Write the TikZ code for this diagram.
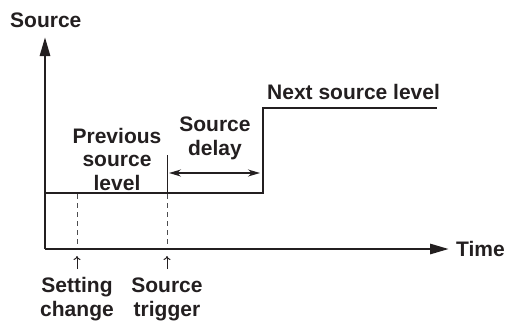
\documentclass[tikz,border=0pt]{standalone}
\usepackage{fontspec}
\setmainfont{Liberation Sans}
\usepackage{tikz}
\usetikzlibrary{arrows.meta,positioning}
\definecolor{clInk}{HTML}{231F20}
\definecolor{clDash}{HTML}{4D4D4F}
\tikzset{
  lbl/.style={font=\fontsize{21}{23.5}\selectfont\bfseries, text=clInk, align=center, inner sep=0pt},
  axis/.style={-{Triangle[length=19pt, width=10pt]}, line width=2.8pt, draw=clInk},
  signal/.style={line width=2.8pt, draw=clInk, line join=miter},
  guide/.style={line width=1pt, draw=clDash, dash pattern=on 5pt off 4pt},
  marker/.style={line width=1pt, draw=clInk},
  span/.style={{Stealth[length=12pt, width=7pt]}-{Stealth[length=12pt, width=7pt]}, line width=1.4pt, draw=clInk},
  pointer/.style={-{To[length=4pt, width=7pt]}, line width=1pt, draw=clInk},
}

\begin{document}
\begin{tikzpicture}[x=1pt, y=-1pt]
  \useasboundingbox (0,0) rectangle (508,322);
  % axes
  \coordinate (org) at (45,249);
  \coordinate (ytop) at (45,37);
  \coordinate (xend) at (449,249);
  \draw[axis] (org) -- (ytop);
  \draw[axis] (org) -- (xend);
  \node[lbl, anchor=base west] (srcax) at (10,27) {Source};
  \node[lbl, anchor=west] (timeax) at (456,249) {Time};
  % source signal
  \coordinate (lvl0) at (45,193);
  \coordinate (step0) at (263,193);
  \coordinate (step1) at (263,108);
  \coordinate (lvl1) at (437,108);
  \draw[signal] (lvl0) -- (step0) -- (step1) -- (lvl1);
  % setting change and trigger
  \coordinate (setlvl) at (77,194);
  \coordinate (setax) at (77,247);
  \coordinate (trgtop) at (167,155);
  \coordinate (trglvl) at (167,194);
  \coordinate (trgax) at (167,247);
  \draw[guide] (setlvl) -- (setax);
  \draw[guide] (trglvl) -- (trgax);
  \draw[marker] (trgtop) -- (trglvl);
  % source delay
  \coordinate (dly0) at (169,173);
  \coordinate (dly1) at (260,173);
  \draw[span] (dly0) -- (dly1);
  % pointers below time axis
  \coordinate (setbot) at (77,269);
  \coordinate (settip) at (77,256);
  \coordinate (trgbot) at (167,269);
  \coordinate (trgtip) at (167,256);
  \draw[pointer] (setbot) -- (settip);
  \draw[pointer] (trgbot) -- (trgtip);
  % labels
  \node[lbl, anchor=base west] (nextlvl) at (267,99) {Next source level};
  \node[lbl, anchor=base] (prevlvl) at (117,190) {Previous\\source\\level};
  \node[lbl, anchor=base] (dlylbl) at (215,155) {Source\\delay};
  \node[lbl, anchor=base] (setlbl) at (77,316) {Setting\\change};
  \node[lbl, anchor=base] (trglbl) at (167,316) {Source\\trigger};
\end{tikzpicture}
\end{document}
